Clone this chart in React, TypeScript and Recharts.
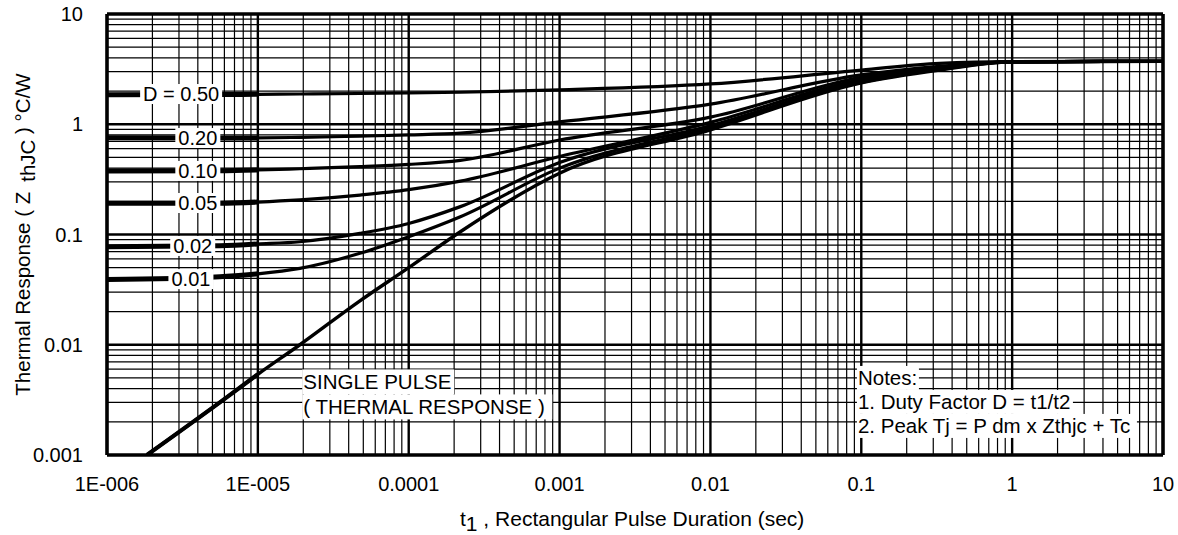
import React from "react";
import { LineChart, Line, XAxis, YAxis, ReferenceLine, ReferenceDot } from "recharts";

const W = 1178;
const H = 535;
const FONT = '"Liberation Sans", Arial, Helvetica, sans-serif';

// axes
const xTicks = [1e-6, 1e-5, 1e-4, 1e-3, 1e-2, 1e-1, 1, 10];
const xTickLabels = ["1E-006", "1E-005", "0.0001", "0.001", "0.01", "0.1", "1", "10"];
const yTicks = [0.001, 0.01, 0.1, 1, 10];
const yTickLabels = ["0.001", "0.01", "0.1", "1", "10"];
const minorSteps = [2, 3, 4, 5, 6, 7, 8, 9];

// duty-cycle curves (t in sec, Z in °C/W)
const tD = [1e-6, 5.6e-6, 1e-5, 1.9e-5, 4.75e-5, 1e-4, 2.2e-4, 1e-3, 1e-2, 0.1, 0.33, 1, 10];
const zD50 = [1.85, 1.86, 1.87, 1.88, 1.9, 1.92, 1.95, 2.05, 2.32, 3.1, 3.57, 3.7, 3.72];
const zD20 = [0.755, 0.75, 0.752, 0.76, 0.78, 0.8, 0.83, 1.05, 1.52, 2.8, 3.35, 3.68, 3.72];
const zD10 = [0.377, 0.379, 0.385, 0.395, 0.412, 0.432, 0.47, 0.72, 1.16, 2.67, 3.3, 3.68, 3.72];
const zD05 = [0.192, 0.192, 0.197, 0.206, 0.228, 0.255, 0.305, 0.51, 1.04, 2.55, 3.25, 3.68, 3.72];
const zD02 = [0.0776, 0.079, 0.082, 0.086, 0.1025, 0.126, 0.179, 0.45, 0.97, 2.45, 3.2, 3.68, 3.72];
const zD01 = [0.039, 0.0414, 0.044, 0.0493, 0.0675, 0.0955, 0.145, 0.4, 0.93, 2.4, 3.15, 3.68, 3.72];

// single pulse
const tSingle = [1.84e-6, 5.6e-6, 1e-5, 1.9e-5, 4.75e-5, 1e-4, 2.2e-4, 1e-3, 1e-2, 0.1, 0.33, 1, 10];
const zSingle = [0.001, 0.003, 0.0054, 0.01, 0.025, 0.05, 0.106, 0.36, 0.89, 2.37, 3.1, 3.68, 3.72];

const curveLabels = ["D = 0.50", "0.20", "0.10", "0.05", "0.02", "0.01"];
const curveLabelT = [3.1e-6, 4.0e-6, 4.0e-6, 4.0e-6, 3.7e-6, 3.6e-6];
const curveLabelZ = [1.88, 0.75, 0.377, 0.193, 0.0787, 0.0394];
const curveLabelW = [82, 45, 45, 45, 45, 45];

const pulseNote = ["SINGLE PULSE", "( THERMAL RESPONSE )"];
const pulseNoteW = [152, 250];
const notes = ["Notes:", "1. Duty Factor D = t1/t2", "2. Peak Tj = P dm x Zthjc + Tc"];
const notesW = [62, 216, 280];

const toPts = (ts: number[], zs: number[]) => ts.map((t, i) => ({ t, z: zs[i] }));

const curves = [zD50, zD20, zD10, zD05, zD02, zD01].map((zs, i) => ({
  name: curveLabels[i],
  pts: toPts(tD, zs),
}));
const single = toPts(tSingle, zSingle);

const xDecades = xTicks.slice(0, -1);
const yDecades = yTicks.slice(0, -1);
const xMinor = xDecades.flatMap(d => minorSteps.map(m => d * m));
const yMinor = yDecades.flatMap(d => minorSteps.map(m => d * m));

function fmt(v: number, ticks: number[], labels: string[]) {
  let best = 0;
  ticks.forEach((t, i) => {
    if (Math.abs(Math.log10(t) - Math.log10(v)) < Math.abs(Math.log10(ticks[best]) - Math.log10(v))) best = i;
  });
  return labels[best];
}

function CurveTag({ cx, cy, text, w }: { cx: number; cy: number; text: string; w: number }) {
  return (
    <g>
      <rect x={cx - w / 2} y={cy - 10} width={w} height={20} fill="#fff" />
      <text x={cx} y={cy + 7} textAnchor="middle" fontSize={20} fill="#000">
        {text}
      </text>
    </g>
  );
}

function NoteBlock({ cx, cy, lines, widths, lh }: { cx: number; cy: number; lines: string[]; widths: number[]; lh: number }) {
  return (
    <g>
      {lines.map((l, i) => (
        <rect key={"r" + i} x={cx - 1} y={cy - lh / 2 + i * lh} width={widths[i]} height={lh} fill="#fff" />
      ))}
      {lines.map((l, i) => (
        <text key={"t" + i} x={cx} y={cy + 7.5 + i * lh} fontSize={20.5} fill="#000">
          {l}
        </text>
      ))}
    </g>
  );
}

export default function App() {
  return (
    <div style={{ width: W, height: H, background: "#fff" }}>
      <style>{`body{margin:0}`}</style>
      <LineChart
        width={W}
        height={H}
        margin={{ top: 14, right: 15, left: 17, bottom: 30 }}
        style={{ fontFamily: FONT }}
      >
        <XAxis
          dataKey="t"
          type="number"
          scale="log"
          domain={[1e-6, 10]}
          allowDataOverflow
          ticks={xTicks}
          tickFormatter={v => fmt(v, xTicks, xTickLabels)}
          tick={{ fill: "#000", fontSize: 20 }}
          tickLine={false}
          axisLine={false}
          tickSize={0}
          tickMargin={22}
          height={50}
          label={{
            content: (p: any) => {
              const vb = p.viewBox || { x: 107, y: 455, width: 1056 };
              const x0 = vb.x + vb.width / 2 - 175;
              return (
                <text x={x0} y={vb.y + 71} textAnchor="start" fontSize={21} fill="#000">
                  t<tspan dy={5}>1</tspan>
                  <tspan dy={-5}>{" , Rectangular Pulse Duration (sec)"}</tspan>
                </text>
              );
            },
          }}
        />
        <YAxis
          type="number"
          scale="log"
          domain={[0.001, 10]}
          allowDataOverflow
          ticks={yTicks}
          tickFormatter={v => fmt(v, yTicks, yTickLabels)}
          tick={{ fill: "#000", fontSize: 20 }}
          tickLine={false}
          axisLine={false}
          tickSize={0}
          tickMargin={24}
          width={90}
          label={{
            content: (p: any) => {
              const vb = p.viewBox || { x: 17, y: 14, height: 441 };
              const x = vb.x + 5;
              const y = vb.y + vb.height / 2;
              return (
                <text x={x} y={y} transform={`rotate(-90 ${x} ${y})`} textAnchor="middle" fontSize={20.5} fill="#000" dominantBaseline="central">
                  {"Thermal Response ( Z"}
                  <tspan dx={10} dy={5}>thJC</tspan>
                  <tspan dy={-5}>{" ) °C/W"}</tspan>
                </text>
              );
            },
          }}
        />

        {/* grid */}
        {xMinor.map(v => (
          <ReferenceLine key={"xm" + v} x={v} stroke="#000" strokeWidth={1.2} />
        ))}
        {yMinor.map(v => (
          <ReferenceLine key={"ym" + v} y={v} stroke="#000" strokeWidth={1.2} />
        ))}
        {xTicks.slice(1, -1).map(v => (
          <ReferenceLine key={"xM" + v} x={v} stroke="#000" strokeWidth={2.4} />
        ))}
        {yTicks.slice(1, -1).map(v => (
          <ReferenceLine key={"yM" + v} y={v} stroke="#000" strokeWidth={2.4} />
        ))}

        {/* curves */}
        {curves.map(c => (
          <Line
            key={c.name}
            data={c.pts}
            dataKey="z"
            type="monotone"
            stroke="#000"
            strokeWidth={3.2}
            dot={false}
            isAnimationActive={false}
          />
        ))}
        {curves.map(c => (
          <Line
            key={c.name + "-stub"}
            data={c.pts.slice(0, 3)}
            dataKey="z"
            type="monotone"
            stroke="#000"
            strokeWidth={5}
            dot={false}
            isAnimationActive={false}
          />
        ))}
        <Line data={single} dataKey="z" type="monotone" stroke="#000" strokeWidth={3.4} dot={false} isAnimationActive={false} />
        <Line data={single.slice(0, 3)} dataKey="z" type="monotone" stroke="#000" strokeWidth={4.2} dot={false} isAnimationActive={false} />

        {/* frame */}
        <ReferenceLine x={1e-6} stroke="#000" strokeWidth={3.6} />
        <ReferenceLine x={10} stroke="#000" strokeWidth={3.6} />
        <ReferenceLine y={0.001} stroke="#000" strokeWidth={3.6} />
        <ReferenceLine y={10} stroke="#000" strokeWidth={3.6} />

        {/* curve tags */}
        {curveLabels.map((l, i) => (
          <ReferenceDot
            key={"tag" + i}
            x={curveLabelT[i]}
            y={curveLabelZ[i]}
            r={0}
            ifOverflow="visible"
            shape={(p: any) => <CurveTag cx={p.cx} cy={p.cy} text={l} w={curveLabelW[i]} />}
          />
        ))}

        <ReferenceDot
          x={2.0e-5}
          y={0.0046}
          r={0}
          ifOverflow="visible"
          shape={(p: any) => <NoteBlock cx={p.cx} cy={p.cy} lines={pulseNote} widths={pulseNoteW} lh={25} />}
        />
        <ReferenceDot
          x={0.095}
          y={0.005}
          r={0}
          ifOverflow="visible"
          shape={(p: any) => <NoteBlock cx={p.cx} cy={p.cy} lines={notes} widths={notesW} lh={24} />}
        />
      </LineChart>
    </div>
  );
}
